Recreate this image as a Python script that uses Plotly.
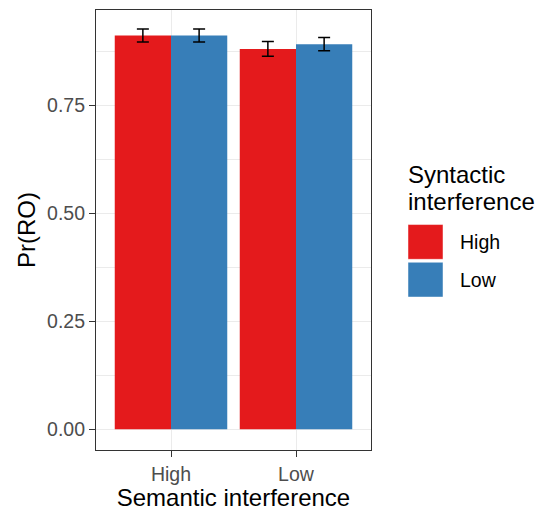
import plotly.graph_objects as go

# ---- data ----
semantic_levels = ["High", "Low"]          # x categories (Semantic interference)
syntactic_levels = ["High", "Low"]         # legend groups (Syntactic interference)
pr_ro_syn_high = [0.911, 0.880]            # Pr(RO) when syntactic interference = High
pr_ro_syn_low = [0.911, 0.891]             # Pr(RO) when syntactic interference = Low
se_syn_high = [0.015, 0.017]
se_syn_low = [0.015, 0.0155]
y_tick_vals = [0.0, 0.25, 0.50, 0.75]
y_tick_text = ["0.00", "0.25", "0.50", "0.75"]
y_minor_vals = [0.125, 0.375, 0.625, 0.875]
series_colors = ["#E41A1C", "#377EB8"]

W, H = 538, 514
L, R, T, B = 96, 371, 9, 452   # plot panel in pixels

def px_x(px):
    return (px - L) / (R - L)

def px_y(py):
    return (B - py) / (B - T)

FONT = "Liberation Sans, Arial, sans-serif"

fig = go.Figure()
for name, vals, errs, col in zip(syntactic_levels, [pr_ro_syn_high, pr_ro_syn_low],
                                  [se_syn_high, se_syn_low], series_colors):
    fig.add_trace(go.Bar(
        x=semantic_levels, y=vals, name=name,
        marker=dict(color=col, line=dict(width=0)),
        error_y=dict(type="data", array=errs, color="black", thickness=1.5, width=6),
        showlegend=False,
    ))

fig.update_layout(
    width=W, height=H,
    margin=dict(l=L, r=W - R, t=T, b=H - B, pad=0),
    paper_bgcolor="white", plot_bgcolor="white",
    barmode="group", bargap=0.1, bargroupgap=0,
    font=dict(family=FONT, color="black"),
    showlegend=False,
)
axis_common = dict(
    showline=True, linecolor="#333333", linewidth=1.2, mirror=True,
    ticks="outside", ticklen=6, tickcolor="#333333", tickwidth=1.2,
    tickfont=dict(size=19.5, color="#4D4D4D", family=FONT),
    showgrid=True, gridcolor="#EBEBEB", gridwidth=1.3, zeroline=False,
)
fig.update_xaxes(
    type="category", range=[-0.6, 1.6],
    title=dict(text="Semantic interference", font=dict(size=24, color="black", family=FONT), standoff=4),
    **axis_common,
)
fig.update_yaxes(
    range=[-0.048, 0.970],
    tickmode="array", tickvals=y_tick_vals, ticktext=y_tick_text,
    minor=dict(tickmode="array", tickvals=y_minor_vals, showgrid=True,
               gridcolor="#EBEBEB", gridwidth=0.7, ticks=""),
    title=dict(text="Pr(RO)", font=dict(size=24, color="black", family=FONT), standoff=4),
    **axis_common,
)

# ---- custom legend (ggplot-style large keys) ----
key_x0, key_x1 = 408, 443
key_tops = [225, 263]
key_size = 35
for name, col, top in zip(syntactic_levels, series_colors, key_tops):
    fig.add_shape(type="rect", xref="paper", yref="paper",
                  x0=px_x(key_x0), x1=px_x(key_x1),
                  y0=px_y(top + key_size), y1=px_y(top),
                  fillcolor=col, line=dict(width=0.8, color="rgba(255,255,255,0.6)"))
    fig.add_annotation(xref="paper", yref="paper", x=px_x(458), y=px_y(top + key_size / 2),
                       text=name, showarrow=False, xanchor="left", yanchor="middle",
                       font=dict(size=19.5, color="black", family=FONT))
fig.add_annotation(xref="paper", yref="paper", x=px_x(406), y=px_y(175),
                   text="Syntactic", showarrow=False, xanchor="left", yanchor="middle",
                   font=dict(size=24, color="black", family=FONT))
fig.add_annotation(xref="paper", yref="paper", x=px_x(406), y=px_y(202),
                   text="interference", showarrow=False, xanchor="left", yanchor="middle",
                   font=dict(size=24, color="black", family=FONT))

fig.write_html("out.html")
